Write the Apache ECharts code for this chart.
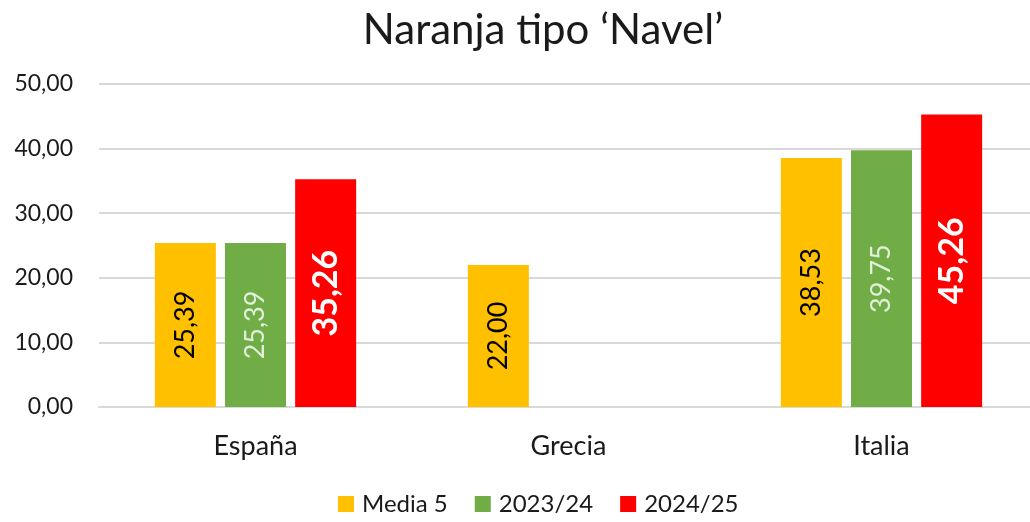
<!DOCTYPE html>
<html>
<head>
<meta charset="utf-8">
<script src="https://cdn.jsdelivr.net/npm/echarts@6/dist/echarts.min.js"></script>
<style>
  html, body { margin: 0; padding: 0; background: #fff; }
  #chart { width: 1030px; height: 522px; }
</style>
</head>
<body>
<div id="chart"></div>
<script>
// Precio medio de la naranja 'Navel' por país y campaña
const categories = ['España', 'Grecia', 'Italia'];
const seriesNames = ['Media 5', '2023/24', '2024/25'];
const media5 = [25.39, 22.00, 38.53];
const camp2324 = [25.39, null, 39.75];
const camp2425 = [35.26, null, 45.26];
const yTicks = [0, 10, 20, 30, 40, 50];

const FONT = 'Lato, "Noto Sans", sans-serif';
const fmt = v => v.toFixed(2).replace('.', ',');

const chart = echarts.init(document.getElementById('chart'));

function barSeries(name, data, color, labelColor, labelSize, bold) {
  return {
    name: name,
    type: 'bar',
    data: data,
    barWidth: 61,
    barGap: '15%',
    itemStyle: { color: color },
    label: {
      show: true,
      position: 'inside',
      rotate: 90,
      color: labelColor,
      fontFamily: FONT,
      fontSize: labelSize,
      fontWeight: bold ? 'bold' : 'normal',
      formatter: p => (p.value == null ? '' : fmt(p.value))
    }
  };
}

chart.setOption({
  animation: false,
  title: {
    text: 'Naranja tipo \u2018Navel\u2019',
    left: 538,
    top: 4,
    textAlign: 'center',
    textStyle: { fontFamily: FONT, fontSize: 42, fontWeight: 'normal', color: '#1a1a1a' }
  },
  legend: {
    data: seriesNames,
    left: 338,
    top: 492,
    padding: 0,
    itemWidth: 16,
    itemHeight: 16,
    itemGap: 27,
    icon: 'rect',
    textStyle: { fontFamily: FONT, fontSize: 24, color: '#1a1a1a', padding: [0, 0, 0, 3] }
  },
  // the plot area runs a little past the right edge of the canvas
  grid: { left: 99, top: 84, width: 939, bottom: 115, outerBoundsMode: 'none' },
  xAxis: {
    type: 'category',
    data: categories,
    axisTick: { show: false },
    axisLine: { lineStyle: { color: '#d9d9d9', width: 2 } },
    axisLabel: { fontFamily: FONT, fontSize: 27, color: '#1a1a1a', margin: 26 }
  },
  yAxis: {
    type: 'value',
    min: yTicks[0],
    max: yTicks[yTicks.length - 1],
    interval: 10,
    axisLine: { show: false },
    axisTick: { show: false },
    splitLine: { lineStyle: { color: '#d9d9d9', width: 2 } },
    axisLabel: { fontFamily: FONT, fontSize: 23, color: '#1a1a1a', margin: 26, formatter: v => fmt(v) }
  },
  series: [
    barSeries(seriesNames[0], media5, '#FFC000', '#000000', 27, false),
    barSeries(seriesNames[1], camp2324, '#70AD47', '#E2F0D9', 27, false),
    barSeries(seriesNames[2], camp2425, '#FF0000', '#FFFFFF', 34, true)
  ]
});
</script>
</body>
</html>
